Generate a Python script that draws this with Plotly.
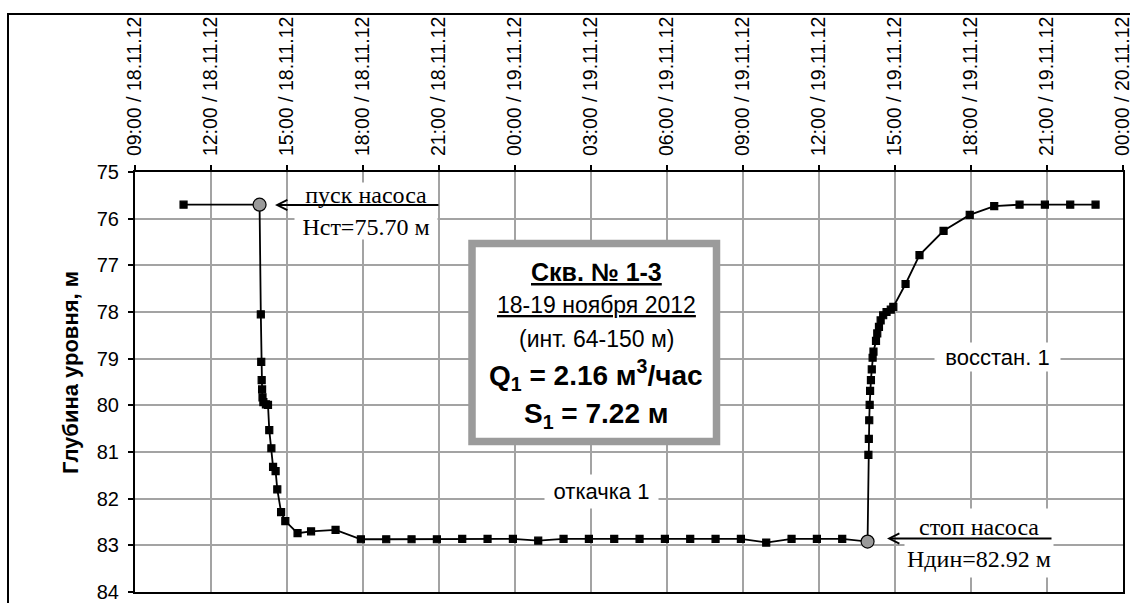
import pandas as pd
import plotly.graph_objects as go

# ---- observations: water level depth (m) in well 1-3, 18-19 Nov 2012 ----
pre_times = ["2012-11-18 10:55"]
pre_depths = [75.70]

pump_start = "2012-11-18 13:55"
h_static = 75.70

# drawdown readings: minutes after pump start
drawdown_minutes = [3, 4, 5, 6, 7, 9, 15, 20, 23, 28, 32, 38, 42, 51, 61, 90, 122, 180]
drawdown_depths = [78.05, 79.07, 79.46, 79.66, 79.83, 79.93, 79.98, 79.99, 80.53, 80.92,
                   81.32, 81.41, 81.80, 82.29, 82.48, 82.74, 82.70, 82.67]

# hourly readings during pumping
hourly_times = ["2012-11-18 17:55", "2012-11-18 18:55", "2012-11-18 19:55", "2012-11-18 20:55",
                "2012-11-18 21:55", "2012-11-18 22:55", "2012-11-18 23:55", "2012-11-19 00:55",
                "2012-11-19 01:55", "2012-11-19 02:55", "2012-11-19 03:55", "2012-11-19 04:55",
                "2012-11-19 05:55", "2012-11-19 06:55", "2012-11-19 07:55", "2012-11-19 08:55",
                "2012-11-19 09:55", "2012-11-19 10:55", "2012-11-19 11:55", "2012-11-19 12:55"]
hourly_depths = [82.87, 82.87, 82.87, 82.87, 82.86, 82.86, 82.86, 82.90, 82.86, 82.86,
                 82.86, 82.86, 82.86, 82.86, 82.86, 82.86, 82.94, 82.86, 82.86, 82.86]

pump_stop = "2012-11-19 13:55"
h_dynamic = 82.92

# recovery readings: minutes after pump stop
recovery_minutes = [2, 3, 4, 5, 6, 8, 10, 12, 14, 20, 23, 27, 31, 37, 45, 55, 61,
                    90, 123, 180, 242, 300, 360, 420, 480, 540]
recovery_depths = [81.06, 80.72, 80.32, 79.99, 79.69, 79.46, 79.23, 78.98, 78.85, 78.62,
                   78.46, 78.32, 78.18, 78.07, 78.00, 77.95, 77.89, 77.40, 76.78, 76.26,
                   75.92, 75.73, 75.70, 75.70, 75.70, 75.70]

x_start = "2012-11-18 09:00"
x_end = "2012-11-20 00:00"
tick_step_hours = 3

# ---- assemble one continuous series ----
t0 = pd.Timestamp(pump_start)
t1 = pd.Timestamp(pump_stop)
times = ([pd.Timestamp(t) for t in pre_times] + [t0]
         + [t0 + pd.Timedelta(minutes=m) for m in drawdown_minutes]
         + [pd.Timestamp(t) for t in hourly_times] + [t1]
         + [t1 + pd.Timedelta(minutes=m) for m in recovery_minutes])
depths = (pre_depths + [h_static] + drawdown_depths + hourly_depths + [h_dynamic]
          + recovery_depths)

is_event = [t in (t0, t1) for t in times]
symbols = ["circle" if e else "square" for e in is_event]
sizes = [13 if e else 7 for e in is_event]
colors = ["#9a9a9a" if e else "black" for e in is_event]

# ---- page geometry ----
W, H = 1130, 603
ML, MR, MT, MB = 135, 7, 172, 11


def px(xp):
    return (xp - ML) / (W - ML - MR)


def py(yp):
    return (H - MB - yp) / (H - MT - MB)


SANS = "Liberation Sans, Arial, sans-serif"
SERIF = "Liberation Serif, Times New Roman, serif"

fig = go.Figure()
fig.add_trace(go.Scatter(
    x=times, y=depths, mode="lines+markers",
    line=dict(color="black", width=1.8),
    marker=dict(symbol=symbols, size=sizes, color=colors, opacity=1,
                line=dict(color="black", width=1.2)),
    showlegend=False, hoverinfo="skip",
))

grid = "#a3a3a3"
fig.update_layout(
    width=W, height=H,
    margin=dict(l=ML, r=MR, t=MT, b=MB, pad=0, autoexpand=False),
    paper_bgcolor="white", plot_bgcolor="white",
    font=dict(family=SANS, color="black"),
    xaxis=dict(
        type="date", side="top", range=[x_start, x_end], automargin=False,
        tick0=x_start, dtick=tick_step_hours * 3600 * 1000,
        tickformat="%H:%M / %d.%m.%y", tickangle=-90,
        tickfont=dict(size=19.5, family=SANS, color="black"),
        ticks="outside", ticklen=5, tickwidth=1.5, tickcolor="black",
        ticklabelstandoff=5, ticklabeloverflow="allow",
        showline=True, linecolor="black", linewidth=2, mirror=True,
        showgrid=True, gridcolor=grid, gridwidth=1.6, zeroline=False,
    ),
    yaxis=dict(
        range=[84, 75], dtick=1, tick0=75, automargin=False,
        tickfont=dict(size=20, family=SANS, color="black"),
        ticks="outside", ticklen=5, tickwidth=1.5, tickcolor="black",
        ticklabelstandoff=5, ticklabeloverflow="allow",
        showline=True, linecolor="black", linewidth=2, mirror=True,
        showgrid=True, gridcolor=grid, gridwidth=1.6, zeroline=False,
    ),
    xaxis2=dict(
        type="date", overlaying="x", side="top", range=[x_start, x_end], automargin=False,
        tick0=x_start, dtick=tick_step_hours * 3600 * 1000,
        ticks="inside", ticklen=6, tickwidth=1.5, tickcolor="black",
        showticklabels=False, showgrid=False, showline=False, zeroline=False,
    ),
    yaxis2=dict(
        overlaying="y", side="left", range=[84, 75], dtick=1, tick0=75, automargin=False,
        ticks="inside", ticklen=5, tickwidth=1.5, tickcolor="black",
        showticklabels=False, showgrid=False, showline=False, zeroline=False,
    ),
)

# outer chart frame
fig.add_shape(type="rect", xref="paper", yref="paper",
              x0=px(8), x1=px(1140), y0=py(14), y1=py(620),
              line=dict(color="black", width=2), fillcolor="rgba(0,0,0,0)", layer="above")

# info box
fig.add_shape(type="rect", xref="paper", yref="paper",
              x0=px(472), x1=px(716.5), y0=py(243.5), y1=py(441.5),
              line=dict(color="#9b9b9b", width=7.5), fillcolor="white", layer="above")


def note(text, xp, yp, size, family=SANS, **kw):
    fig.add_annotation(x=px(xp), y=py(yp), xref="paper", yref="paper",
                       text=text, showarrow=False, xanchor="center", yanchor="middle",
                       font=dict(size=size, family=family, color="black"), **kw)


box_cx = 596
note("<b><u>Скв. № 1-3</u></b>", box_cx, 271.5, 25)
note("<u>18-19 ноября 2012</u>", box_cx, 304.5, 23)
note("(инт. 64-150 м)", box_cx, 339, 23)
note("<b>Q<sub>1</sub> = 2.16 м<sup>3</sup>/час</b>", box_cx, 375, 28)
note("<b>S<sub>1</sub> = 7.22 м</b>", box_cx, 415, 28)

# axis title
note("<b>Глубина уровня, м</b>", 70, 373, 22, textangle=-90)

# stage labels
note("откачка 1", 601.5, 491.5, 22, bgcolor="white", width=113, height=33, borderpad=0)
note("восстан. 1", 997.5, 356.5, 22, bgcolor="white", width=125, height=28, borderpad=0)

# pump start / stop notes with arrows
note("пуск насоса<br>Нст=75.70 м", 366, 211, 24, family=SERIF,
     bgcolor="white", width=142, height=56, borderpad=0)
fig.add_annotation(x=px(275), y=py(205), xref="paper", yref="paper",
                   text="", showarrow=True, ax=165, ay=0,
                   arrowhead=5, arrowsize=1, arrowwidth=2, arrowcolor="black")

note("стоп насоса<br>Ндин=82.92 м", 979, 543, 24, family=SERIF,
     bgcolor="white", width=148, height=68, borderpad=0)
fig.add_annotation(x=px(887), y=py(538.5), xref="paper", yref="paper",
                   text="", showarrow=True, ax=166, ay=0,
                   arrowhead=5, arrowsize=1, arrowwidth=2, arrowcolor="black")

fig.write_html("out.html")
